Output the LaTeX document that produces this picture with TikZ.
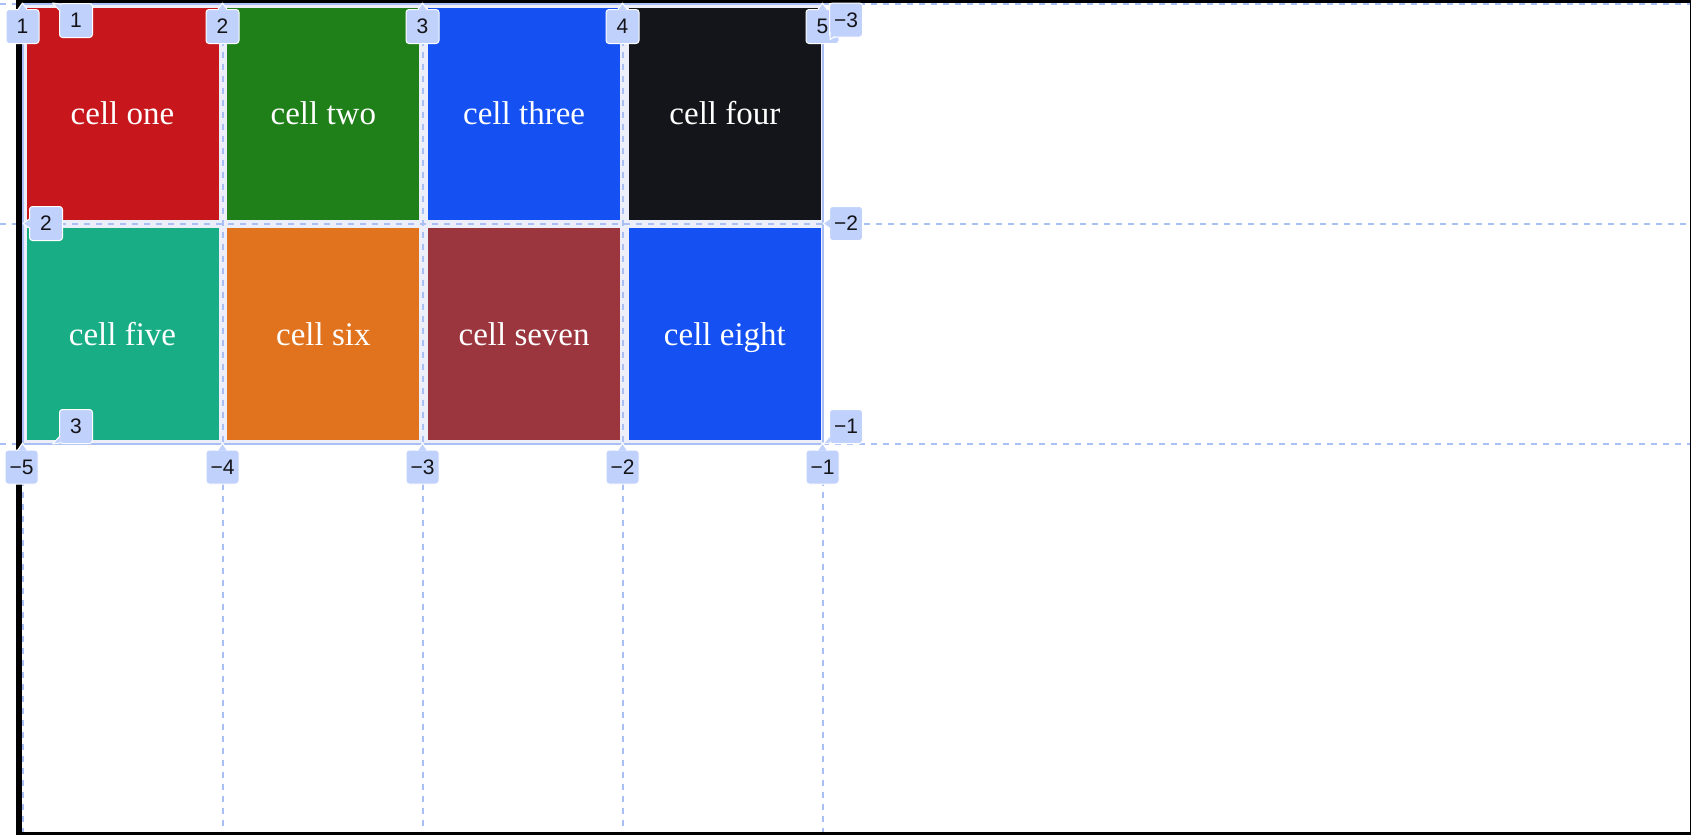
\documentclass[tikz,border=0pt]{standalone}
\usepackage{fontspec}
\setmainfont{Liberation Serif}
\newfontfamily\tagsans{Liberation Sans}
\usetikzlibrary{positioning}

\definecolor{cellred}{RGB}{200,23,28}
\definecolor{cellgreen}{RGB}{31,128,25}
\definecolor{cellblue}{RGB}{20,80,242}
\definecolor{celldark}{RGB}{20,21,26}
\definecolor{cellteal}{RGB}{24,173,133}
\definecolor{cellorange}{RGB}{225,114,30}
\definecolor{cellmaroon}{RGB}{155,54,62}
\definecolor{gapfill}{RGB}{236,239,249}
\definecolor{lineblue}{RGB}{170,192,245}
\definecolor{tagblue}{RGB}{192,209,251}
\definecolor{tagink}{RGB}{20,20,24}

\begin{document}
\begin{tikzpicture}[
  x=0.5pt, y=-0.5pt,
  cell/.style={minimum width=96pt, minimum height=106pt, inner sep=0pt, text height=12pt, text depth=0.8pt, text=white, font=\fontsize{16.5pt}{18pt}\selectfont},
  tag/.style={draw=white, line width=0.5pt, fill=tagblue, rounded corners=1.5pt, minimum width=16.5pt, minimum height=17pt, inner sep=0pt, text=tagink, font=\tagsans\fontsize{10.5pt}{12pt}\selectfont},
  tagnotch/.style={fill=tagblue, draw=white, line width=0.5pt, line join=round},
  gridline/.style={draw=lineblue, line width=1pt, dash pattern=on 3pt off 3pt},
  gridedge/.style={draw=lineblue, line width=1pt}
]
\useasboundingbox (0,0) rectangle (1691,835);
\fill[white] (0,0) rectangle (1691,835);

% grid area and lines
\fill[gapfill] (22.5,3.5) rectangle (822.5,443.5);
\draw[gridline] (222.5,3.5) -- (222.5,835);
\draw[gridline] (422.5,3.5) -- (422.5,835);
\draw[gridline] (622.5,3.5) -- (622.5,835);
\draw[gridline] (22.5,443.5) -- (22.5,835);
\draw[gridline] (822.5,443.5) -- (822.5,835);
\draw[gridline] (0,223.5) -- (1691,223.5);
\draw[gridline] (0,3.5) -- (22.5,3.5);
\draw[gridline] (822.5,3.5) -- (1691,3.5);
\draw[gridline] (0,443.5) -- (22.5,443.5);
\draw[gridline] (822.5,443.5) -- (1691,443.5);
\draw[gridedge] (22.5,3.5) rectangle (822.5,443.5);

% container border
\fill[black] (16,0) rectangle (22,835);
\fill[black] (16,0) rectangle (1691,3);
\fill[black] (1689.5,0) rectangle (1691,835);
\fill[black] (16,832) rectangle (1691,835);

% cells
\node[cell, fill=cellred] (one) at (122.5,113.5) {cell one};
\node[cell, fill=cellgreen, right=4pt of one] (two) {cell two};
\node[cell, fill=cellblue, right=4pt of two] (three) {cell three};
\node[cell, fill=celldark, right=4pt of three] (four) {cell four};
\node[cell, fill=cellteal, below=4pt of one] (five) {cell five};
\node[cell, fill=cellorange, right=4pt of five] (six) {cell six};
\node[cell, fill=cellmaroon, right=4pt of six] (seven) {cell seven};
\node[cell, fill=cellblue, right=4pt of seven] (eight) {cell eight};

% column numbers
\node[tag] (ct1) at (22.5,26.5) {1};
\filldraw[tagnotch] (ct1.north) +(-5,1) -- +(0,-6) -- +(5,1);
\node[tag] (ct2) at (222.5,26.5) {2};
\filldraw[tagnotch] (ct2.north) +(-5,1) -- +(0,-6) -- +(5,1);
\node[tag] (ct3) at (422.5,26.5) {3};
\filldraw[tagnotch] (ct3.north) +(-5,1) -- +(0,-6) -- +(5,1);
\node[tag] (ct4) at (622.5,26.5) {4};
\filldraw[tagnotch] (ct4.north) +(-5,1) -- +(0,-6) -- +(5,1);
\node[tag] (ct5) at (822.5,26.5) {5};
\filldraw[tagnotch] (ct5.north) +(-5,1) -- +(0,-6) -- +(5,1);

\node[tag] (cb5) at (21.5,467) {−5};
\filldraw[tagnotch] (cb5.north) +(-4,1) -- +(1,-6.5) -- +(6,1);
\node[tag] (cb4) at (222.5,467) {−4};
\filldraw[tagnotch] (cb4.north) +(-5,1) -- +(0,-6.5) -- +(5,1);
\node[tag] (cb3) at (422.5,467) {−3};
\filldraw[tagnotch] (cb3.north) +(-5,1) -- +(0,-6.5) -- +(5,1);
\node[tag] (cb2) at (622.5,467) {−2};
\filldraw[tagnotch] (cb2.north) +(-5,1) -- +(0,-6.5) -- +(5,1);
\node[tag] (cb1) at (822.5,467) {−1};
\filldraw[tagnotch] (cb1.north) +(-5,1) -- +(0,-6.5) -- +(5,1);

% row numbers
\node[tag] (rl1) at (76,20.5) {1};
\filldraw[tagnotch] (rl1.north west) +(1,1) -- +(-6.5,0) -- +(1,8);
\node[tag] (rl2) at (46,223.5) {2};
\filldraw[tagnotch] (rl2.west) +(1,-5) -- +(-6,0) -- +(1,5);
\node[tag] (rl3) at (76,426.5) {3};
\filldraw[tagnotch] (rl3.south west) +(1,-1) -- +(-6.5,0) -- +(1,-8);

\node[tag] (rr3) at (846,20) {−3};
\filldraw[tagnotch] (rr3.south west) +(1,-6) -- +(1,2) -- +(6,-1);
\node[tag] (rr2) at (846,223.5) {−2};
\filldraw[tagnotch] (rr2.west) +(1,-5) -- +(-6,0) -- +(1,5);
\node[tag] (rr1) at (846,426.5) {−1};
\filldraw[tagnotch] (rr1.south west) +(1,-1) -- +(-6,0) -- +(1,-8);
\end{tikzpicture}
\end{document}
